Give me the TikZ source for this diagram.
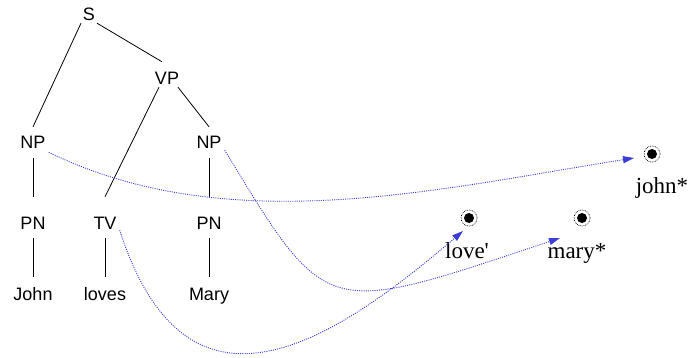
\documentclass[tikz,border=0pt]{standalone}
\usepackage{fontspec}
\setmainfont{Liberation Serif}
\newfontfamily\treefont{Liberation Sans}
\usetikzlibrary{arrows.meta}
\definecolor{linkblue}{RGB}{60,60,215}
\begin{document}
\begin{tikzpicture}[x=1pt,y=-1pt,
  cat/.style={font=\treefont\fontsize{18}{20}\selectfont, anchor=base, inner sep=0pt, text height=13pt, text depth=0pt},
  sem/.style={font=\fontsize{23}{25}\selectfont, anchor=base, inner sep=0pt},
  edge/.style={draw=black, line width=0.8pt},
  ent/.style={circle, draw=black, densely dotted, line width=0.7pt, minimum size=16pt, inner sep=0pt,
              path picture={\fill[black] (path picture bounding box.center) circle (5pt);}},
  link/.style={draw=linkblue, line width=0.9pt, dash pattern=on 1pt off 1.2pt, -{Triangle[length=11pt,width=7pt]}}
]
\useasboundingbox (0,0) rectangle (692,358);
% tree nodes
\node[cat] (S)   at (89,21)  {S};
\node[cat] (VP)  at (167,85) {VP};
\node[cat] (NPa) at (33,149) {NP};
\node[cat] (NPb) at (209,149) {NP};
\node[cat] (PNa) at (33,229) {PN};
\node[cat] (TV)  at (105,229) {TV};
\node[cat] (PNb) at (209,229) {PN};
\node[cat] (John)  at (33,300) {John};
\node[cat] (loves) at (105,300) {loves};
\node[cat] (Mary)  at (209,300) {Mary};
% tree edges
\path[edge] ([xshift=-8pt,yshift=-2pt]S.south) -- ([yshift=9pt]NPa.north);
\path[edge] ([xshift=8pt,yshift=-2pt]S.south) -- ([xshift=-5pt,yshift=10pt]VP.north);
\path[edge] ([xshift=11pt,yshift=-2pt]VP.south) -- ([yshift=9pt]NPb.north);
\path[edge] ([xshift=-8pt,yshift=-2pt]VP.south) -- ([yshift=19pt]TV.north);
\path[edge] ([yshift=-9pt]NPa.south) -- ([yshift=19pt]PNa.north);
\path[edge] ([yshift=-9pt]NPb.south) -- ([yshift=19pt]PNb.north);
\path[edge] ([yshift=-9pt]PNa.south) -- ([yshift=10pt]John.north);
\path[edge] ([yshift=-9pt]TV.south) -- ([yshift=10pt]loves.north);
\path[edge] ([yshift=-9pt]PNb.south) -- ([yshift=10pt]Mary.north);
% entities
\node[ent] (jd) at (652,154) {};
\node[ent] (ld) at (469,218) {};
\node[ent] (md) at (582,218) {};
\node[sem] (jl) at (662,193) {john*};
\node[sem] (ll) at (467,258) {love\textquotesingle};
\node[sem] (ml) at (577,258) {mary*};
% links
\path[link] ([xshift=3pt,yshift=-3pt]NPa.south east) .. controls (228,240) and (438,189) .. ([xshift=-18pt,yshift=-4pt]jd.center);
\path[link] ([xshift=3pt,yshift=-1pt]NPb.south east) .. controls (328,320) and (323,317) .. ([xshift=-22pt,yshift=-20pt]md.center);
\path[link] ([xshift=3pt,yshift=-1pt]TV.south east) .. controls (187,439) and (333,342) .. ([xshift=-6pt,yshift=-13pt]ld.center);
\end{tikzpicture}
\end{document}
